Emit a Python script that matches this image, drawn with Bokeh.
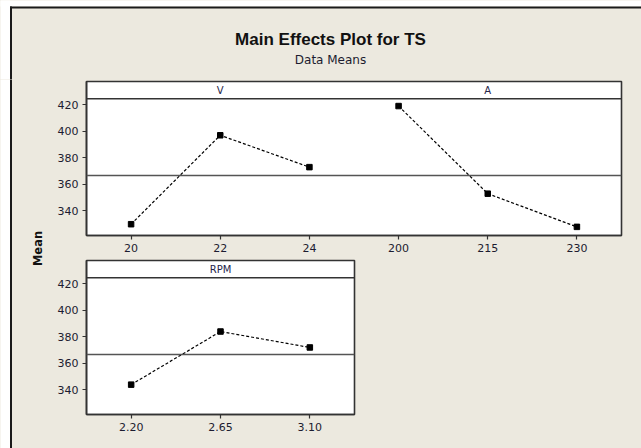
import numpy as np
from bokeh.plotting import figure
from bokeh.models import Range1d, FactorRange, FixedTicker, Span, Spacer
from bokeh.layouts import column, row
from bokeh.core.properties import value
from bokeh.embed import file_html
from bokeh.resources import INLINE

# ---------------- data ----------------
title_text = "Main Effects Plot for TS"
subtitle_text = "Data Means"
y_label = "Mean"

v_name = "V"
v_levels = ["20", "22", "24"]
v_means = [330, 397, 373]

a_name = "A"
a_levels = ["200", "215", "230"]
a_means = [419, 353, 328]

rpm_name = "RPM"
rpm_levels = ["2.20", "2.65", "3.10"]
rpm_means = [344, 384, 372]

y_ticks = [340, 360, 380, 400, 420]

grand_mean = float(np.mean(v_means + a_means + rpm_means))

# ---------------- styles ----------------
BG = "#ECE9DF"
EDGE = "#333333"
TXT = "#1c1c30"
FONT = "DejaVu Sans"
Y_LO, Y_STRIP, Y_HI = 321.5, 424.5, 437.5
STRIP_MID = (Y_STRIP + Y_HI) / 2


def bare(width, height, xr, yr):
    p = figure(width=width, height=height, x_range=xr, y_range=yr,
               output_backend="svg", toolbar_location=None, title=None,
               min_border_left=0, min_border_right=0, min_border_top=0,
               min_border_bottom=0)
    p.axis.visible = False
    p.grid.visible = False
    p.outline_line_color = None
    p.background_fill_color = BG
    p.border_fill_color = BG
    return p


def panel(width, height, factors, mb_left, mb_right, mb_top, mb_bottom):
    p = figure(width=width, height=height, x_range=FactorRange(*factors, range_padding=0),
               y_range=Range1d(Y_LO, Y_HI), output_backend="svg",
               toolbar_location=None, title=None,
               min_border_left=mb_left, min_border_right=mb_right,
               min_border_top=mb_top, min_border_bottom=mb_bottom)
    p.background_fill_color = "white"
    p.border_fill_color = BG
    p.grid.visible = False
    p.outline_line_color = EDGE
    p.outline_line_width = 1.6
    p.yaxis.ticker = FixedTicker(ticks=y_ticks)
    for ax in (p.xaxis[0], p.yaxis[0]):
        ax.axis_line_color = EDGE
        ax.axis_line_width = 1.6
        ax.major_tick_out = 4
        ax.major_tick_in = 0
        ax.minor_tick_line_color = None
        ax.major_tick_line_color = EDGE
        ax.major_tick_line_width = 1.2
        ax.major_label_text_font = FONT
        ax.major_label_text_font_size = "11px"
        ax.major_label_text_color = TXT
        ax.major_label_standoff = 4
    p.add_layout(Span(location=Y_STRIP, dimension="width", line_color=EDGE, line_width=1.6))
    p.add_layout(Span(location=grand_mean, dimension="width", line_color="#555555", line_width=1.4))
    return p


def effect(p, levels, means, name):
    p.line(levels, means, line_color="black", line_width=1.2, line_dash="3 2")
    p.scatter(levels, means, marker="square", size=5.5, fill_color="black", line_color="black")
    p.text(x=[levels[1]], y=[STRIP_MID], text=[name], text_align="center",
           text_baseline="middle", text_font=value(FONT), text_font_size="10px",
           text_color="#26264a")


W, H = 641, 448
# ---------------- header ----------------
HH = 79
header = bare(W, HH, Range1d(0, W), Range1d(0, HH))
header.quad(left=[-2, -2], right=[9.5, W + 2], bottom=[-2, 73], top=[HH + 2, HH + 2],
            fill_color="white", line_color=None)
header.quad(left=[9.5, 9.5], right=[11.5, W + 2], bottom=[-2, 71], top=[73, 73],
            fill_color="#1a1a1a", line_color=None)
header.text(x=[330], y=[40], text=[title_text], text_align="center", text_baseline="middle",
            text_font=value("Liberation Sans"), text_font_style="bold", text_font_size="17px",
            text_color="#111111")
header.text(x=[330], y=[20], text=[subtitle_text], text_align="center", text_baseline="middle",
            text_font=value(FONT), text_font_size="12px", text_color=TXT)

# ---------------- left label ----------------
LW, LH = 48, H - HH
lab = bare(LW, LH, Range1d(0, LW), Range1d(0, LH))
lab.quad(left=[-2], right=[9.5], bottom=[-2], top=[LH + 2], fill_color="white", line_color=None)
lab.quad(left=[9.5], right=[11.5], bottom=[-2], top=[LH + 2], fill_color="#1a1a1a", line_color=None)
lab.text(x=[37], y=[200], text=[y_label], angle=np.pi / 2, text_align="center",
         text_baseline="middle", text_font=value(FONT), text_font_style="bold",
         text_font_size="11.5px", text_color="#111111")

# ---------------- top panel (V and A) ----------------
PW = W - LW
top = panel(PW, 179, v_levels + a_levels, 38, 20, 2, 23)
effect(top, v_levels, v_means, v_name)
effect(top, a_levels, a_means, a_name)

# ---------------- bottom panel (RPM) ----------------
bot = panel(308, 190, rpm_levels, 38, 2, 2, 34)
effect(bot, rpm_levels, rpm_means, rpm_name)
bot_row = row(bot, Spacer(width=PW - 308, height=190, styles={"background-color": BG}), spacing=0)
top_row = row(top, spacing=0)

layout = column(header, row(lab, column(top_row, bot_row, spacing=0), spacing=0), spacing=0)
layout.styles = {"background-color": BG, "position": "absolute", "left": "0px", "top": "0px"}

open("out.html", "w").write(file_html(layout, INLINE))
